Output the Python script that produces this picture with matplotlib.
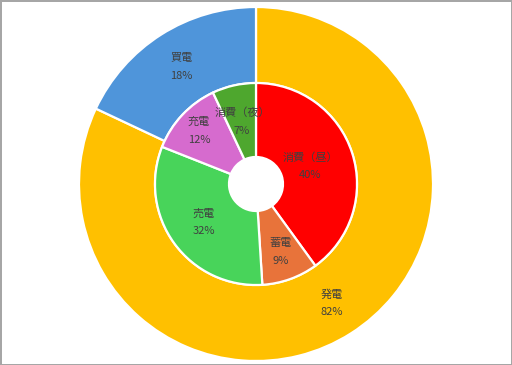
import numpy as np
import matplotlib.pyplot as plt

plt.rcParams['font.family'] = ['Noto Sans CJK JP', 'DejaVu Sans']

# outer ring
outer_labels = ['発電', '買電']
outer_values = [82, 18]
outer_colors = ['#FFC000', '#4F95DA']

# inner ring
inner_labels = ['消費（昼）', '蓄電', '売電', '充電', '消費（夜）']
inner_values = [40, 9, 32, 12, 7]
inner_colors = ['#FF0000', '#E8733A', '#48D45A', '#D66BCE', '#4EA72E']

fig = plt.figure(figsize=(5.12, 3.65), dpi=100)
fig.patch.set_edgecolor('#A6A6A6')
fig.patch.set_linewidth(1.0)
ax = fig.add_axes([0, 0, 1, 1])

cx, cy = 256, 181
r_out, r_in, r_hole = 177, 101, 27
wp = dict(edgecolor='white', linewidth=1.6)

w_out, _ = ax.pie(outer_values, colors=outer_colors, startangle=90, counterclock=False,
                  radius=r_out, center=(cx, cy), wedgeprops=dict(width=r_out - r_in, **wp),
                  frame=True)
w_in, _ = ax.pie(inner_values, colors=inner_colors, startangle=90, counterclock=False,
                 radius=r_in, center=(cx, cy), wedgeprops=dict(width=r_in - r_hole, **wp),
                 frame=True)
ax.set_xlim(0, 512)
ax.set_ylim(0, 365)
ax.set_aspect('equal')
ax.axis('off')

def label(wedges, names, vals, dists):
    for w, n, v, d in zip(wedges, names, vals, dists):
        a = np.deg2rad((w.theta1 + w.theta2) / 2)
        x, y = cx + d * np.cos(a), cy + d * np.sin(a)
        ax.text(x, y + 8.5, n, ha='center', va='center', fontsize=8, color='#404040')
        ax.text(x, y - 9, f'{v}%', ha='center', va='center', fontsize=8, color='#404040')

label(w_out, outer_labels, outer_values, [141, 139])
label(w_in, inner_labels, inner_values, [57, 72, 65, 78, 64])

plt.savefig('out.png', dpi=100)
